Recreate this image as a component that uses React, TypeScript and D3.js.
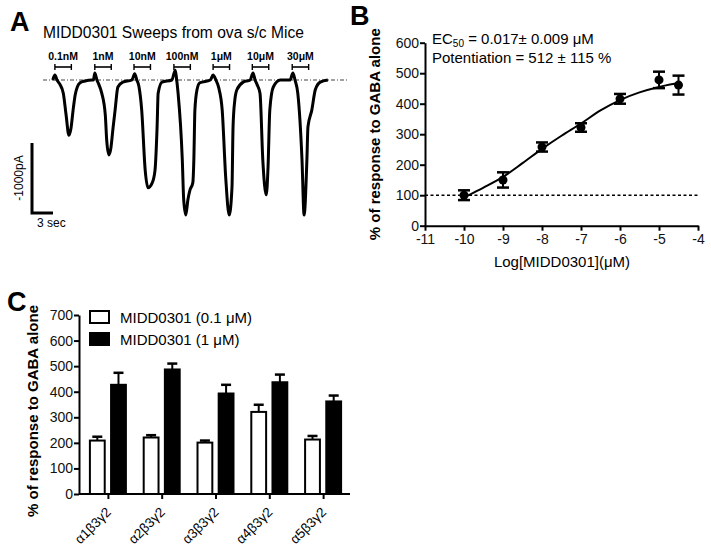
import React, { useRef, useEffect } from 'react'
import * as d3 from 'd3'

// ---- Panel A: sweeps, [time (s), current (pA)]
const sweepTrace: [number, number][] = [
  [1.4, 0], [1.7, 70], [2.0, 0], [2.4, -60], [2.9, -190], [3.3, -500], [3.7, -790], [4.0, -690],
  [4.3, -430], [4.6, -210], [4.9, -100], [5.3, -40], [6.0, -15], [7.0, 0],
  [7.2, 0], [7.4, 100], [7.7, 0], [8.0, -70], [8.4, -190], [8.9, -500], [9.1, -860], [9.4, -1070],
  [9.7, -970], [10.0, -690], [10.3, -430], [10.7, -100], [11.4, -30], [12.7, 0],
  [13.1, 90], [13.4, 0], [13.7, -90], [14.1, -430], [14.6, -1290], [15.0, -1540], [15.6, -1470],
  [16.0, -1290], [16.3, -670], [16.45, -190], [17.0, -30], [18.4, 0],
  [18.9, 140], [19.1, 0], [19.3, -190], [19.9, -1140], [20.1, -1710], [20.4, -1930], [20.7, -1710],
  [21.0, -1570], [21.4, -1470], [21.55, -1140], [21.7, -430], [22.0, -140], [22.4, -40], [23.9, 0],
  [24.3, 70], [24.7, 0], [25.1, -110], [25.6, -430], [26.1, -1390], [26.6, -1930], [27.0, -1530],
  [27.15, -670], [27.4, -290], [27.7, -140], [28.6, -30], [29.6, 0],
  [30.0, 100], [30.3, 0], [30.6, -70], [31.0, -190], [31.4, -1140], [31.9, -1640], [32.15, -1240],
  [32.4, -430], [32.9, -100], [33.9, 0], [35.3, 0],
  [35.7, 100], [36.0, 0], [36.4, -190], [37.0, -1140], [37.3, -1930], [37.7, -1140], [37.85, -670],
  [38.4, -430], [38.9, -140], [39.6, -30], [40.7, 0],
]
const concLabels = ['0.1nM', '1nM', '10nM', '100nM', '1\u03bcM', '10\u03bcM', '30\u03bcM']
const concOnsets = [1.7, 7.4, 13.0, 18.7, 24.3, 29.9, 35.6]
const applicationDuration = 2.35

// ---- Panel B: concentration response
const logConc = [-10, -9, -8, -7, -6, -5, -4.5]
const meanResp = [100, 150, 258, 322, 416, 478, 461]
const semResp = [16, 25, 15, 14, 16, 27, 31]
const fitLogConc = [-9.93, -9.5, -9, -8.5, -8, -7.5, -7, -6.5, -6, -5.5, -5, -4.5, -4.42]
const fitResp = [97, 125, 160, 205, 252, 295, 335, 378, 412, 437, 455, 467, 468]
const bYTicks = [0, 100, 200, 300, 400, 500, 600]
const bXTicks = [-11, -10, -9, -8, -7, -6, -5, -4]

// ---- Panel C: subtype selectivity
const subtypes = ['\u03b11\u03b23\u03b32', '\u03b12\u03b23\u03b32', '\u03b13\u03b23\u03b32', '\u03b14\u03b23\u03b32', '\u03b15\u03b23\u03b32']
const resp01 = [209, 221, 201, 321, 213]
const err01 = [15, 9, 8, 28, 14]
const resp1 = [427, 487, 393, 437, 362]
const err1 = [47, 23, 34, 30, 23]
const seriesNames = ['MIDD0301 (0.1 \u03bcM)', 'MIDD0301 (1 \u03bcM)']
const cYTicks = [0, 100, 200, 300, 400, 500, 600, 700]

const FONT = 'Arial, "Liberation Sans", sans-serif'

function App() {
  const svgRef = useRef<SVGSVGElement>(null)

  useEffect(() => {
    const svg = d3.select(svgRef.current)
    svg.selectAll('*').remove()
    svg.attr('font-family', FONT)

    // ================= Panel A =================
    const ax = d3.scaleLinear().domain([0, 44]).range([43, 351])
    const ay = d3.scaleLinear().domain([0, -2000]).range([80, 220])

    svg.append('text').attr('x', 10).attr('y', 31).attr('font-size', 27).attr('font-weight', 'bold').text('A')
    svg.append('text').attr('x', 43).attr('y', 38).attr('font-size', 15.6).text('MIDD0301 Sweeps from ova s/c Mice')

    // baseline
    svg.append('line')
      .attr('x1', ax(0)).attr('x2', ax(43.6))
      .attr('y1', ay(0)).attr('y2', ay(0))
      .attr('stroke', '#444').attr('stroke-width', 1.2)
      .attr('stroke-dasharray', '4,2,1,2')

    // application brackets
    const br = svg.append('g').selectAll('g').data(concOnsets).join('g')
    br.append('line')
      .attr('x1', d => ax(d)).attr('x2', d => ax(d + applicationDuration))
      .attr('y1', 67).attr('y2', 67).attr('stroke', 'black').attr('stroke-width', 1.6)
    br.append('line')
      .attr('x1', d => ax(d)).attr('x2', d => ax(d))
      .attr('y1', 64).attr('y2', 70).attr('stroke', 'black').attr('stroke-width', 1.4)
    br.append('line')
      .attr('x1', d => ax(d + applicationDuration)).attr('x2', d => ax(d + applicationDuration))
      .attr('y1', 64).attr('y2', 70).attr('stroke', 'black').attr('stroke-width', 1.4)
    br.append('text')
      .attr('x', d => ax(d + applicationDuration / 2)).attr('y', 60)
      .attr('text-anchor', 'middle').attr('font-size', 10.5).attr('font-weight', 'bold')
      .text((d, i) => concLabels[i])

    const traceLine = d3.line<[number, number]>()
      .x(d => ax(d[0])).y(d => ay(d[1]))
      .curve(d3.curveMonotoneX)
    svg.append('path').datum(sweepTrace)
      .attr('d', traceLine)
      .attr('fill', 'none').attr('stroke', 'black')
      .attr('stroke-width', 3).attr('stroke-linejoin', 'round')

    // scale bar: 1000 pA, 3 sec
    const sbX = d3.scaleLinear().domain([0, 3]).range([32, 53])
    svg.append('path')
      .attr('d', `M${sbX(0)},${ay(0) + 63}V${ay(-1000) + 63}H${sbX(3)}`)
      .attr('fill', 'none').attr('stroke', 'black').attr('stroke-width', 3)
    svg.append('text')
      .attr('transform', 'translate(23,178) rotate(-90)')
      .attr('text-anchor', 'middle').attr('font-size', 12).text('-1000pA')
    svg.append('text').attr('x', 37).attr('y', 227).attr('font-size', 12).text('3 sec')

    // ================= Panel B =================
    const bx = d3.scaleLinear().domain([-11, -4]).range([425, 698])
    const by = d3.scaleLinear().domain([0, 600]).range([225.7, 42.7])

    svg.append('text').attr('x', 350).attr('y', 25).attr('font-size', 27).attr('font-weight', 'bold').text('B')

    const bAxisY = svg.append('g').attr('transform', `translate(${bx(-11)},0)`)
      .call(d3.axisLeft(by).tickValues(bYTicks).tickSize(5).tickSizeOuter(0).tickPadding(1))
    const bAxisX = svg.append('g').attr('transform', `translate(0,${by(0)})`)
      .call(d3.axisBottom(bx).tickValues(bXTicks).tickSize(5).tickSizeOuter(0).tickPadding(3)
        .tickFormat(d => String(d)))
    for (const g of [bAxisY, bAxisX]) {
      g.select('.domain').attr('stroke-width', 2)
      g.selectAll('line').attr('stroke-width', 2)
      g.selectAll('text').attr('font-size', 14).attr('font-family', FONT).attr('fill', '#111')
    }

    svg.append('line')
      .attr('x1', bx(-11)).attr('x2', bx(-4))
      .attr('y1', by(100)).attr('y2', by(100))
      .attr('stroke', 'black').attr('stroke-width', 1.6).attr('stroke-dasharray', '3,2.5')

    const fitLine = d3.line<number>()
      .x((d, i) => bx(fitLogConc[i])).y(d => by(d))
      .curve(d3.curveMonotoneX)
    svg.append('path').datum(fitResp)
      .attr('d', fitLine).attr('fill', 'none').attr('stroke', 'black').attr('stroke-width', 2)

    const pts = svg.append('g').selectAll('g').data(logConc).join('g')
    pts.append('line')
      .attr('x1', d => bx(d)).attr('x2', d => bx(d))
      .attr('y1', (d, i) => by(meanResp[i] - semResp[i])).attr('y2', (d, i) => by(meanResp[i] + semResp[i]))
      .attr('stroke', 'black').attr('stroke-width', 2)
    for (const sign of [-1, 1]) {
      pts.append('line')
        .attr('x1', d => bx(d) - 6).attr('x2', d => bx(d) + 6)
        .attr('y1', (d, i) => by(meanResp[i] + sign * semResp[i]))
        .attr('y2', (d, i) => by(meanResp[i] + sign * semResp[i]))
        .attr('stroke', 'black').attr('stroke-width', 2.5)
    }
    pts.append('circle')
      .attr('cx', d => bx(d)).attr('cy', (d, i) => by(meanResp[i]))
      .attr('r', 4.5).attr('fill', 'black')

    svg.append('text')
      .attr('transform', `translate(380,${(by(0) + by(600)) / 2}) rotate(-90)`)
      .attr('text-anchor', 'middle').attr('font-size', 15).attr('font-weight', 'bold')
      .text('% of response to GABA alone')
    svg.append('text')
      .attr('x', 562).attr('y', 267).attr('text-anchor', 'middle').attr('font-size', 15)
      .text('Log[MIDD0301](\u03bcM)')

    const ec = svg.append('text').attr('x', 432).attr('y', 44).attr('font-size', 15)
    ec.append('tspan').text('EC')
    ec.append('tspan').attr('font-size', 10).attr('dy', 3).text('50')
    ec.append('tspan').attr('dy', -3).text(' = 0.017\u00b1 0.009 \u03bcM')
    svg.append('text').attr('x', 432).attr('y', 63).attr('font-size', 15)
      .text('Potentiation = 512 \u00b1 115 %')

    // ================= Panel C =================
    const cx = d3.scalePoint<string>().domain(subtypes).range([81, 350]).padding(0.5)
    const inner = d3.scaleBand<string>().domain(['0.1', '1']).range([-18, 18]).paddingInner(0.3)
    const cy = d3.scaleLinear().domain([0, 700]).range([494, 315])

    svg.append('text').attr('x', 7).attr('y', 311).attr('font-size', 27).attr('font-weight', 'bold').text('C')

    const cAxisY = svg.append('g').attr('transform', 'translate(79,0)')
      .call(d3.axisLeft(cy).tickValues(cYTicks).tickSize(5).tickSizeOuter(0).tickPadding(1))
    const cAxisX = svg.append('g').attr('transform', `translate(0,${cy(0)})`)
      .call(d3.axisBottom(cx).tickSize(5).tickSizeOuter(0).tickFormat(() => ''))
    cAxisX.select('.domain').attr('d', `M79,0H350`)
    for (const g of [cAxisY, cAxisX]) {
      g.select('.domain').attr('stroke-width', 2)
      g.selectAll('line').attr('stroke-width', 2)
      g.selectAll('text').attr('font-size', 14).attr('font-family', FONT).attr('fill', '#111')
    }

    const series = [
      { key: '0.1', vals: resp01, errs: err01, fill: 'white' },
      { key: '1', vals: resp1, errs: err1, fill: 'black' },
    ]
    for (const s of series) {
      const g = svg.append('g').selectAll('g').data(subtypes).join('g')
      const bx0 = (d: string) => (cx(d) as number) + (inner(s.key) as number)
      const bw = inner.bandwidth()
      g.append('line')
        .attr('x1', d => bx0(d) + bw / 2).attr('x2', d => bx0(d) + bw / 2)
        .attr('y1', (d, i) => cy(s.vals[i])).attr('y2', (d, i) => cy(s.vals[i] + s.errs[i]))
        .attr('stroke', 'black').attr('stroke-width', 2)
      g.append('line')
        .attr('x1', d => bx0(d) + bw / 2 - 5).attr('x2', d => bx0(d) + bw / 2 + 5)
        .attr('y1', (d, i) => cy(s.vals[i] + s.errs[i])).attr('y2', (d, i) => cy(s.vals[i] + s.errs[i]))
        .attr('stroke', 'black').attr('stroke-width', 2.5)
      g.append('rect')
        .attr('x', d => bx0(d)).attr('width', bw)
        .attr('y', (d, i) => cy(s.vals[i])).attr('height', (d, i) => cy(0) - cy(s.vals[i]))
        .attr('fill', s.fill).attr('stroke', 'black').attr('stroke-width', 2)
    }

    svg.append('g').selectAll('text').data(subtypes).join('text')
      .attr('transform', d => `translate(${(cx(d) as number) + 4},${cy(0) + 19}) rotate(-45)`)
      .attr('text-anchor', 'end').attr('font-size', 13.5)
      .text(d => d)

    // legend
    const leg = svg.append('g').selectAll('g').data(series).join('g')
      .attr('transform', (d, i) => `translate(90,${311 + i * 22})`)
    leg.append('rect').attr('width', 19).attr('height', 12)
      .attr('fill', d => d.fill).attr('stroke', 'black').attr('stroke-width', 2)
    leg.append('text').attr('x', 30).attr('y', 12).attr('font-size', 15)
      .text((d, i) => seriesNames[i])

    svg.append('text')
      .attr('transform', 'translate(38,411) rotate(-90)')
      .attr('text-anchor', 'middle').attr('font-size', 15).attr('font-weight', 'bold')
      .text('% of response to GABA alone')
  }, [])

  return (
    <div style={{ position: 'absolute', left: 0, top: 0 }}>
      <svg ref={svgRef} width={711} height={551} style={{ display: 'block', background: 'white' }} />
    </div>
  )
}

export default App
